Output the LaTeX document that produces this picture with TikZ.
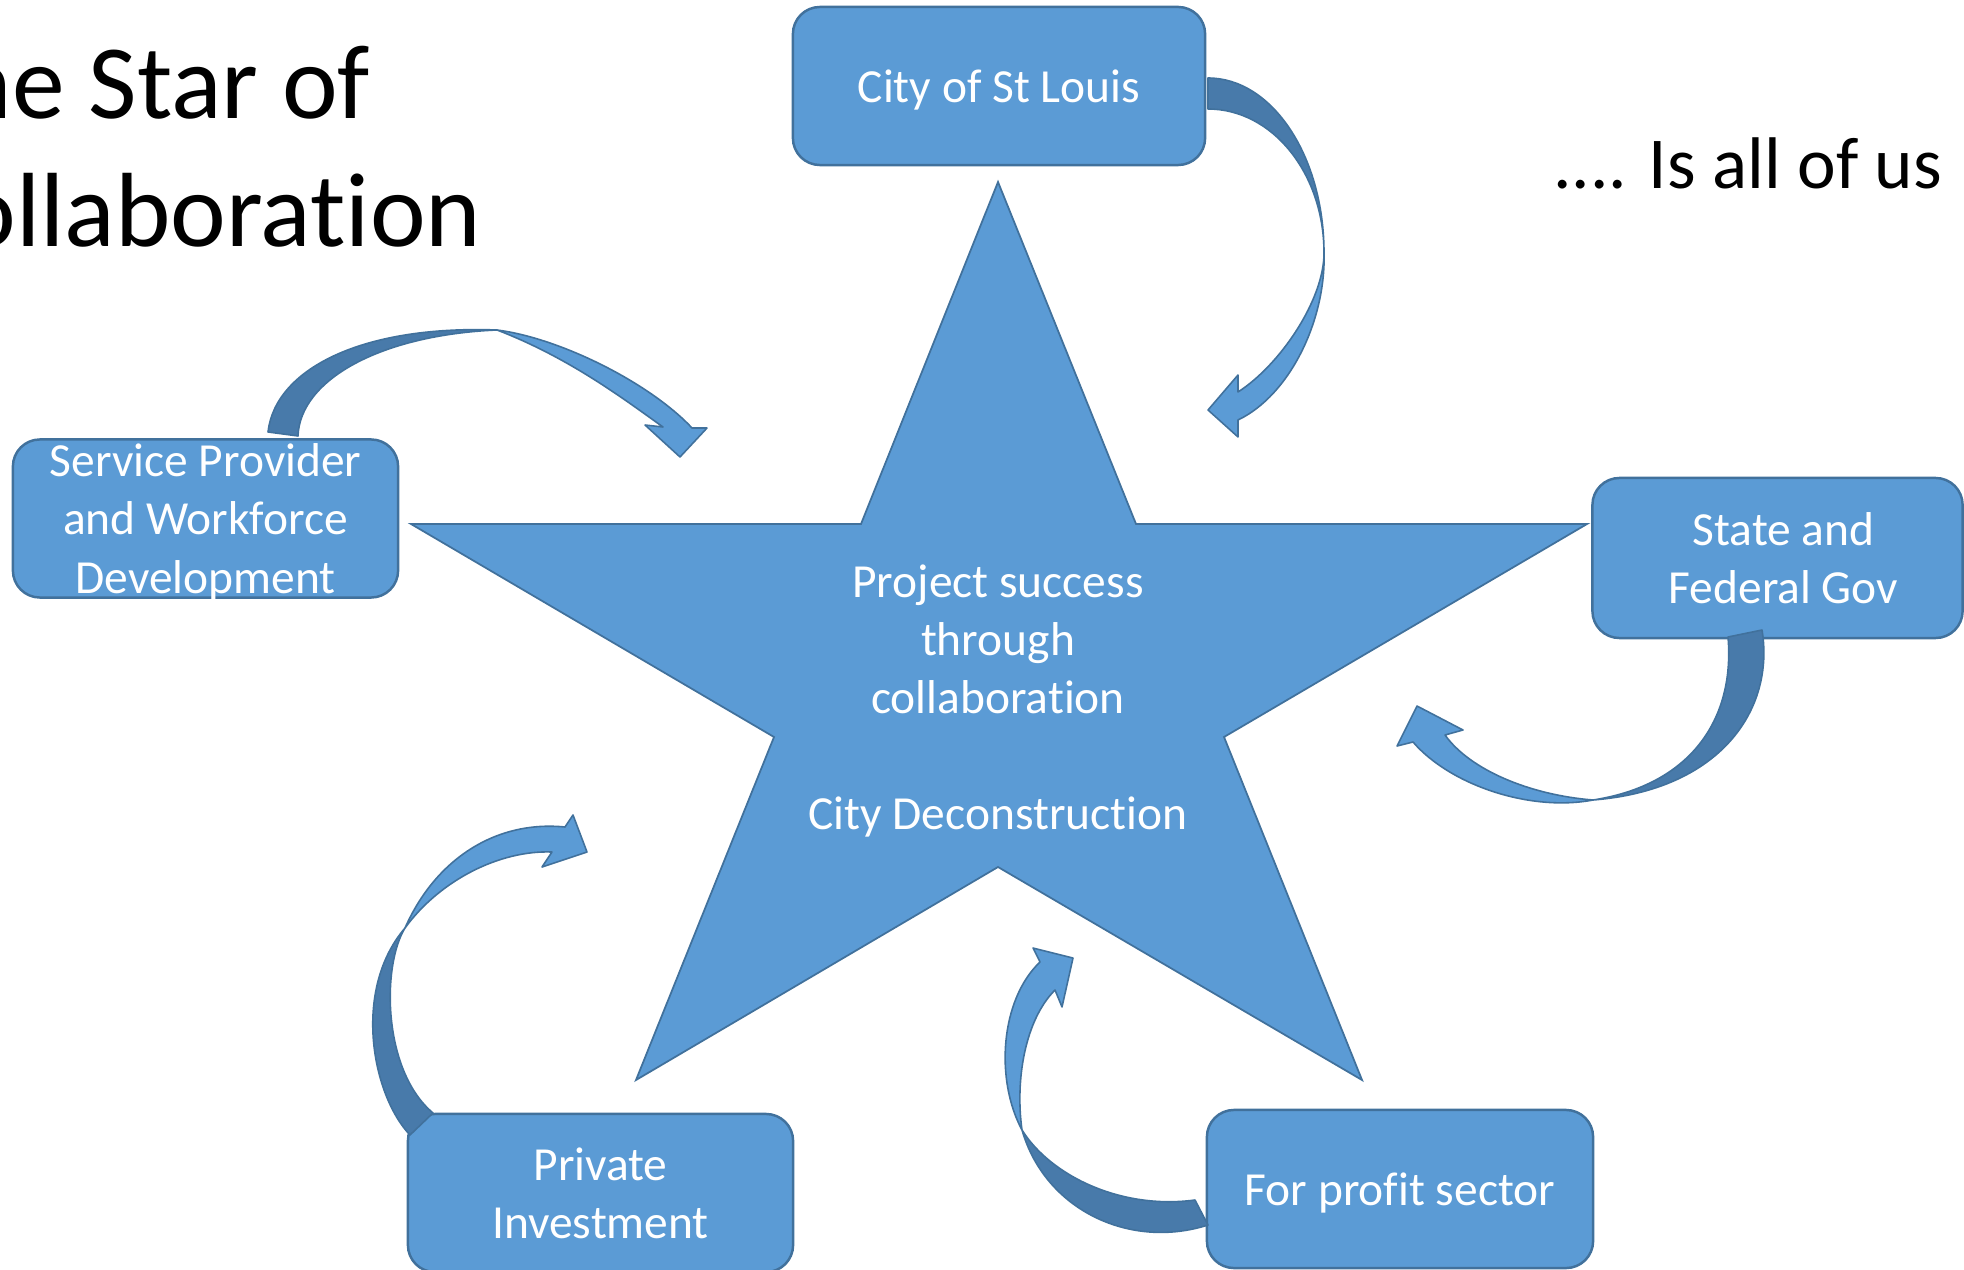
\documentclass[tikz,border=0pt]{standalone}
\usepackage{fontspec}
\setmainfont{Carlito}[Ligatures={NoCommon}]
\usepackage{tikz}

\definecolor{officeblue}{HTML}{5B9BD5}
\definecolor{blueedge}{HTML}{41719C}
\definecolor{blueback}{HTML}{487AAA}

\tikzset{
  box/.style={draw=blueedge, line width=0.7pt, fill=officeblue, rounded corners=0.27cm,
    text=white, align=center, font=\fontsize{13.5}{16.5}\selectfont, text depth=0pt,
    minimum width=3.85cm, minimum height=1.58cm, inner sep=0pt},
  ribbon/.style={draw=blueedge, line width=0.45pt, fill=officeblue, line join=round},
  ribbonback/.style={draw=blueedge, line width=0.45pt, fill=blueback, line join=round},
  starline/.style={draw=blueedge, line width=0.5pt, fill=officeblue, line join=miter},
}

\begin{document}
\begin{tikzpicture}[x=0.01cm,y=-0.01cm]
    \useasboundingbox (0,0) rectangle (1964,1270);

    % title, cut at the left edge
    \node[anchor=base east, inner sep=0pt, font=\fontsize{30}{36}\selectfont] (title) at (371,119) {The Star of};
    \node[anchor=base east, inner sep=0pt, font=\fontsize{30}{36}\selectfont] (title2) at (482,247) {Collaboration};
    \node[anchor=base east, inner sep=0pt, font=\fontsize{20.8}{25}\selectfont] (allofus) at (1943,189) {.... Is all of us};

    % the star
    \draw[starline] (998,182) -- (1136,524) -- (1587,524) -- (1224,737) -- (1362,1080)
        -- (998,867) -- (636,1080) -- (774,737) -- (411,524) -- (861,524) -- cycle;
    \node[text=white, align=center, font=\fontsize{13.5}{16.5}\selectfont] (core) at (998,701)
        {Project success\\through\\collaboration\\\mbox{}\\City Deconstruction};

    % partners
    \node[box, minimum width=4.12cm] (city) at (999,86) {City of St Louis};
    \node[box] (service) at (205.5,518.5) {Service Provider\\and Workforce\\Development};
    \node[box, minimum width=3.70cm, minimum height=1.60cm] (state) at (1777.5,558)
        {\hspace*{0.12cm}State and\\\hspace*{0.12cm}Federal Gov};
    \node[box] (private) at (600.5,1193) {Private\\Investment};
    \node[box, minimum width=3.86cm] (profit) at (1400,1189) {For profit sector};

    % curved arrows, back part first
    % city
    \filldraw[ribbonback] (1208,78) .. controls (1272,78) and (1324,156) .. (1324,253)
        .. controls (1324,173) and (1272,109) .. (1208,109) -- cycle;
    \filldraw[ribbon] (1324,253) .. controls (1324,300) and (1280,365) .. (1238,392)
        -- (1238,375) -- (1208,410) -- (1238,437) -- (1238,420)
        .. controls (1290,395) and (1326,320) .. (1324,253) -- cycle;
    % service
    \filldraw[ribbonback] (268,432) .. controls (275,370) and (360,325) .. (497,330)
        .. controls (380,335) and (300,380) .. (298,436) -- cycle;
    \filldraw[ribbon] (497,330) .. controls (560,338) and (650,383) .. (692,428)
        -- (707,428) -- (680,457) -- (645,425) -- (663,427)
        .. controls (625,400) and (570,358) .. (497,330) -- cycle;
    % state
    \filldraw[ribbonback] (1762,630) .. controls (1775,710) and (1720,790) .. (1593,800)
        .. controls (1690,785) and (1735,720) .. (1728,637) -- cycle;
    \filldraw[ribbon] (1593,800) .. controls (1530,812) and (1450,785) .. (1413,742)
        -- (1397,746) -- (1417,706) -- (1463,730) -- (1445,735)
        .. controls (1470,770) and (1530,795) .. (1593,800) -- cycle;
    % private
    \filldraw[ribbonback] (410,1135) .. controls (372,1095) and (352,990) .. (405,928)
        .. controls (382,965) and (382,1070) .. (433,1113) -- cycle;
    \filldraw[ribbon] (405,928) .. controls (435,860) and (495,820) .. (565,827)
        -- (573,815) -- (587,852) -- (542,867) -- (552,852)
        .. controls (500,850) and (440,880) .. (405,928) -- cycle;
    % profit
    \filldraw[ribbonback] (1208,1225) .. controls (1130,1250) and (1045,1210) .. (1022,1130)
        .. controls (1050,1175) and (1120,1210) .. (1195,1200) -- cycle;
    \filldraw[ribbon] (1022,1130) .. controls (995,1080) and (1000,1000) .. (1040,962)
        -- (1033,948) -- (1073,958) -- (1062,1007) -- (1055,990)
        .. controls (1025,1020) and (1015,1080) .. (1022,1130) -- cycle;
\end{tikzpicture}
\end{document}
